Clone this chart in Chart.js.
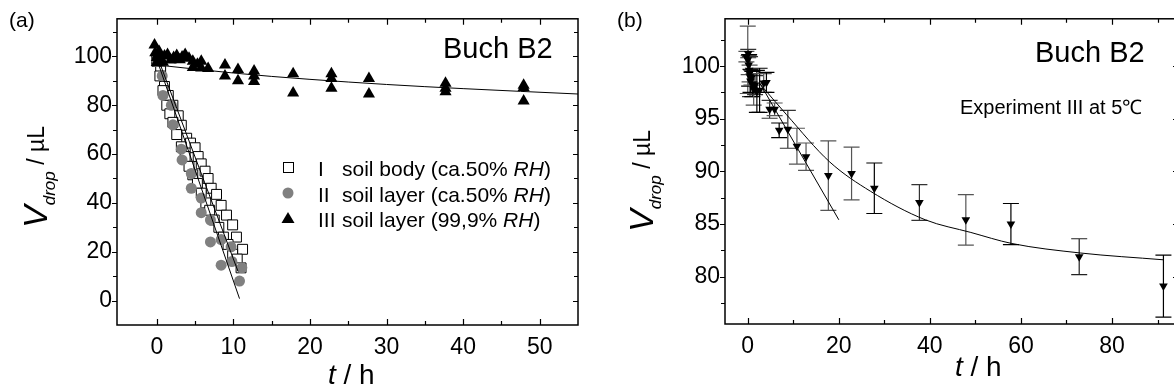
<!DOCTYPE html>
<html>
<head>
<meta charset="utf-8">
<script src="https://cdn.jsdelivr.net/npm/chart.js@4.4.0/dist/chart.umd.min.js"></script>
<style>
  html, body { margin: 0; padding: 0; background: #fff; overflow: hidden; width: 1174px; height: 392px; }
  canvas { position: absolute; top: 0; }
  #chartA { left: 0; }
  #chartB { left: 590px; }
</style>
</head>
<body>
<canvas id="chartA" width="590" height="392"></canvas>
<canvas id="chartB" width="600" height="392"></canvas>
<script>
// ---- panel (a) data ----
// I soil body, open squares (two drops)
const bodyT = [0, 0.5, 1.0, 1.5, 2.1, 2.8, 3.2, 3.9, 4.4, 5.0, 5.4, 5.8, 6.3, 6.7, 7.1, 7.8, 8.4, 9.1, 9.9, 10.4, 11.2,
               0, 0.4, 0.8, 1.3, 1.7, 2.1, 2.6, 3.2, 3.7, 4.2, 4.7, 5.3, 5.8, 6.4, 6.9, 7.5, 8.1, 8.7, 9.3, 9.9, 10.5, 11.0];
const bodyV = [99, 94, 87.7, 84, 80, 75.7, 71.8, 66.5, 64.5, 62.6, 59, 56, 53, 50, 46, 43.5, 39, 35, 31, 26, 21,
               98, 92, 86, 80, 76.5, 73, 68, 63, 59, 55, 51.5, 48, 44, 40, 37, 33, 30, 26, 23, 19, 17, 13.4];
// II soil layer, grey circles
const layerT = [0, 0, 0.7, 0.8, 1.9, 2.1, 3.2, 3.3, 4.5, 4.5, 5.8, 5.8, 7.0, 7.0, 8.4, 8.4, 9.7, 9.8, 11.1, 10.8];
const layerV = [99, 98, 92, 84, 80, 72, 62, 57.6, 52, 46, 42, 36, 33, 24, 25, 14.5, 22, 16, 13.4, 8];
// III soil layer 99,9% RH, filled triangles
const wetT = [-0.3, -0.2, 0, 0, 0.1, 0.2, 0.3, 0.5, 0.8, 1.0, 1.4, 1.8, 2.2, 2.6, 3.0, 3.3, 3.7, 4.2, 4.7, 4.7, 5.3, 5.8, 5.8, 6.7,
              8.9, 8.9, 10.6, 10.6, 12.7, 12.7, 12.7, 17.8, 17.8, 22.8, 22.8, 22.8, 27.7, 27.7, 37.7, 37.7, 37.7, 47.9, 47.9, 47.9];
const wetV = [104.7, 101.5, 99.5, 97.5, 100.5, 98.5, 102, 99, 97.6, 100.2, 100.8, 98.5, 99.5, 100.4, 98.6, 99.8, 100.8, 99.2, 98, 95.5, 96.8, 98, 95.2, 95,
              96.5, 92, 94.6, 90, 94, 92, 89.7, 92.9, 85, 92.9, 91, 87, 91, 84.6, 89, 87, 85.5, 88.2, 87.3, 81.7];
// fitted lines
const fitBodyT = [0.3, 10.6];
const fitBodyV = [98, 12];
const fitLayerT = [0.2, 10.8];
const fitLayerV = [97, 0.8];
const fitWetT = [0, 5, 10, 15, 20, 30, 40, 55];
const fitWetV = [96.5, 94.8, 93.2, 91.8, 90.6, 88.5, 86.8, 84.6];

const xTicksA = [0, 5, 10, 15, 20, 25, 30, 35, 40, 45, 50];
const xLabelsA = [0, 10, 20, 30, 40, 50];
const yTicksA = [0, 10, 20, 30, 40, 50, 60, 70, 80, 90, 100, 110];
const yLabelsA = [0, 20, 40, 60, 80, 100];

// ---- panel (b) data ----
const expT = [-0.3, 0.0, 0.1, 0.2, 0.3, 0.4, 0.5, 0.6, 0.8, 1.0, 1.3, 1.6, 2.0,
              2.6, 3.5, 4.1, 4.8, 5.9, 6.9, 8.8, 10.8, 12.8, 17.7, 22.8, 27.8, 37.7, 47.9, 57.8, 72.8, 91.3];
const expV = [100.9, 100.6, 101.2, 100.1, 99.6, 99.3, 99.0, 98.6, 98.9, 98.3, 97.8, 98.2, 97.6,
              97.7, 98.4, 98.45, 95.9, 95.9, 93.9, 94.0, 92.4, 91.4, 89.6, 89.8, 88.4, 87.05, 85.4, 85.0, 81.9, 79.1];
const expErr = [0.5, 3.2, 0.4, 0.9, 1.5, 0.8, 1.9, 1.1, 0.7, 1.2, 1.5, 0.9, 2.0,
                2.1, 0.9, 0.95, 0.85, 0.6, 0.7, 1.8, 1.7, 1.3, 3.3, 2.5, 2.4, 1.7, 2.4, 1.95, 1.7, 2.95];
const expErrColor = ['#555', '#555', '#333', '#555', '#000', '#555', '#333', '#000', '#555', '#000', '#555', '#333', '#000',
                     '#000', '#555', '#000', '#333', '#555', '#000', '#333', '#555', '#555', '#555', '#555', '#000', '#333', '#555', '#000', '#222', '#000'];
const fitLinT = [2.5, 20];
const fitLinV = [98.5, 85.4];
const fitExpT = [2.5, 8.5, 18, 27, 39, 49, 58, 73, 91.3];
const fitExpV = [98.4, 95.4, 90.9, 88.1, 85.4, 84.2, 83.15, 82.25, 81.6];

const xTicksB = [0, 10, 20, 30, 40, 50, 60, 70, 80, 90];
const xLabelsB = [0, 20, 40, 60, 80];
const yTicksB = [77.5, 80, 82.5, 85, 87.5, 90, 92.5, 95, 97.5, 100, 102.5];
const yLabelsB = [80, 85, 90, 95, 100];

const FONT = "'Liberation Sans', Arial, sans-serif";

function pairs(xs, ys) {
  return xs.map((v, i) => ({ x: v, y: ys[i] }));
}

function drawRich(ctx, parts, x, y) {
  let cx = x;
  parts.forEach(p => {
    ctx.font = (p[2] ? 'italic ' : '') + p[1] + 'px ' + FONT;
    ctx.fillText(p[0], cx, y + (p[3] || 0));
    cx += ctx.measureText(p[0]).width;
  });
  return cx;
}

function richWidth(ctx, parts) {
  let w = 0;
  parts.forEach(p => {
    ctx.font = (p[2] ? 'italic ' : '') + p[1] + 'px ' + FONT;
    w += ctx.measureText(p[0]).width;
  });
  return w;
}

function drawYTitle(ctx, bx, cy) {
  const parts = [['V', 34, true, 0], ['drop', 17, true, 8], [' / \u00b5L', 23, false, -3]];
  const w = richWidth(ctx, parts);
  ctx.save();
  ctx.translate(bx, cy);
  ctx.rotate(-Math.PI / 2);
  drawRich(ctx, parts, -w / 2, 0);
  ctx.restore();
}

// box round the plot, ticks inside except on the left side
const framePlugin = {
  id: 'frame',
  afterDatasetsDraw(chart, args, opts) {
    const { ctx, chartArea: a, scales: { x, y } } = chart;
    ctx.save();
    ctx.strokeStyle = '#000';
    ctx.lineWidth = 1.5;
    ctx.strokeRect(a.left, a.top, a.right - a.left, a.bottom - a.top);
    ctx.lineWidth = 1.2;
    ctx.beginPath();
    x.ticks.forEach(t => {
      const px = Math.round(x.getPixelForValue(t.value)) + 0.5;
      const len = opts.xMajor.includes(t.value) ? 6 : 4;
      ctx.moveTo(px, a.bottom); ctx.lineTo(px, a.bottom - len);
      ctx.moveTo(px, a.top); ctx.lineTo(px, a.top + len);
    });
    y.ticks.forEach(t => {
      const py = Math.round(y.getPixelForValue(t.value)) + 0.5;
      const len = opts.yMajor.includes(t.value) ? 5 : 4;
      ctx.moveTo(a.left, py); ctx.lineTo(a.left - len, py);
      ctx.moveTo(a.right, py); ctx.lineTo(a.right - len, py);
    });
    ctx.stroke();
    ctx.restore();
  }
};

const errorBarPlugin = {
  id: 'errorBars',
  beforeDatasetsDraw(chart) {
    const { ctx, scales: { x, y } } = chart;
    ctx.save();
    ctx.lineWidth = 1.2;
    chart.data.datasets.forEach(ds => {
      if (!ds.errors) return;
      ds.data.forEach((p, i) => {
        const px = x.getPixelForValue(p.x);
        const top = y.getPixelForValue(p.y + ds.errors[i]);
        const bot = y.getPixelForValue(p.y - ds.errors[i]);
        ctx.strokeStyle = ds.errorColors[i];
        ctx.beginPath();
        ctx.moveTo(px, top); ctx.lineTo(px, bot);
        ctx.moveTo(px - 8, top); ctx.lineTo(px + 8, top);
        ctx.moveTo(px - 8, bot); ctx.lineTo(px + 8, bot);
        ctx.stroke();
      });
    });
    ctx.restore();
  }
};

const textA = {
  id: 'textA',
  afterDraw(chart) {
    const ctx = chart.ctx;
    ctx.save();
    ctx.fillStyle = '#000';
    ctx.textBaseline = 'alphabetic';
    drawRich(ctx, [['(a)', 21]], 9, 27);
    drawRich(ctx, [['Buch B2', 29]], 443, 58);
    // legend
    const rows = [['I', 'soil body (ca.50% ', 176], ['II', 'soil layer (ca.50% ', 202], ['III', 'soil layer (99,9% ', 227]];
    rows.forEach(r => {
      drawRich(ctx, [[r[0], 21]], 318, r[2]);
      drawRich(ctx, [[r[1], 21], ['RH', 21, true], [')', 21]], 342, r[2]);
    });
    ctx.strokeStyle = '#000';
    ctx.lineWidth = 1;
    ctx.fillStyle = '#fff';
    ctx.fillRect(283.5, 162.5, 10, 10);
    ctx.strokeRect(283.5, 162.5, 10, 10);
    ctx.fillStyle = '#808080';
    ctx.beginPath(); ctx.arc(288, 193, 5.5, 0, Math.PI * 2); ctx.fill();
    ctx.fillStyle = '#000';
    ctx.beginPath(); ctx.moveTo(288, 212); ctx.lineTo(294.5, 223); ctx.lineTo(281.5, 223); ctx.closePath(); ctx.fill();
    drawRich(ctx, [['t', 28, true], [' / h', 28]], 328, 384);
    drawYTitle(ctx, 47, 177);
    ctx.restore();
  }
};

const textB = {
  id: 'textB',
  afterDraw(chart) {
    const ctx = chart.ctx;
    ctx.save();
    ctx.fillStyle = '#000';
    ctx.textBaseline = 'alphabetic';
    drawRich(ctx, [['(b)', 21]], 27, 27);
    drawRich(ctx, [['Buch B2', 29]], 445, 62);
    drawRich(ctx, [['Experiment III at 5\u2103', 20]], 370, 114);
    drawRich(ctx, [['t', 28, true], [' / h', 28]], 365, 376);
    drawYTitle(ctx, 63, 181);
    ctx.restore();
  }
};

function axes(xmin, xmax, xTicks, xLabels, yMin, yMax, yTicks, yLabels, yWidth, xHeight) {
  const tickFont = { family: FONT, size: 23 };
  return {
    x: {
      type: 'linear', min: xmin, max: xmax,
      afterBuildTicks: s => { s.ticks = xTicks.map(v => ({ value: v })); },
      afterFit: s => { s.height = xHeight; },
      ticks: { callback: v => xLabels.includes(v) ? String(v) : '', font: tickFont, color: '#000', padding: 9, maxRotation: 0, autoSkip: false },
      grid: { display: false, drawTicks: false },
      border: { display: false }
    },
    y: {
      type: 'linear', min: yMin, max: yMax,
      afterBuildTicks: s => { s.ticks = yTicks.map(v => ({ value: v })); },
      afterFit: s => { s.width = yWidth; },
      ticks: { callback: v => yLabels.includes(v) ? String(v) : '', font: tickFont, color: '#000', padding: 5, autoSkip: false },
      grid: { display: false, drawTicks: false },
      border: { display: false }
    }
  };
}

new Chart(document.getElementById('chartA'), {
  type: 'scatter',
  data: {
    datasets: [
      { data: pairs(fitBodyT, fitBodyV), showLine: true, pointRadius: 0, borderColor: '#000', borderWidth: 1, order: 0 },
      { data: pairs(fitLayerT, fitLayerV), showLine: true, pointRadius: 0, borderColor: '#000', borderWidth: 1, order: 0 },
      { data: pairs(fitWetT, fitWetV), showLine: true, pointRadius: 0, borderColor: '#000', borderWidth: 1, cubicInterpolationMode: 'monotone', order: 0 },
      { data: pairs(wetT, wetV), pointStyle: 'triangle', pointRadius: 7, backgroundColor: '#000', borderColor: '#000', borderWidth: 0, order: 1 },
      { data: pairs(layerT, layerV), pointStyle: 'circle', pointRadius: 5.5, backgroundColor: '#808080', borderColor: '#808080', borderWidth: 0, order: 2 },
      { data: pairs(bodyT, bodyV), pointStyle: 'rect', pointRadius: 7, backgroundColor: '#fff', borderColor: '#000', borderWidth: 1, order: 3 }
    ]
  },
  options: {
    responsive: false, animation: false, events: [],
    layout: { padding: { top: 8, right: 12, left: 0, bottom: 0 } },
    plugins: { legend: { display: false }, tooltip: { enabled: false }, frame: { xMajor: xLabelsA, yMajor: yLabelsA } },
    scales: axes(-5.2, 55, xTicksA, xLabelsA, -10, 115.4, yTicksA, yLabelsA, 117, 67)
  },
  plugins: [framePlugin, textA]
});

new Chart(document.getElementById('chartB'), {
  type: 'scatter',
  data: {
    datasets: [
      { data: pairs(fitLinT, fitLinV), showLine: true, pointRadius: 0, borderColor: '#000', borderWidth: 1, order: 0 },
      { data: pairs(fitExpT, fitExpV), showLine: true, pointRadius: 0, borderColor: '#000', borderWidth: 1, cubicInterpolationMode: 'monotone', order: 0 },
      { data: pairs(expT, expV), errors: expErr, errorColors: expErrColor, pointStyle: 'triangle', rotation: 180, pointRadius: 5, backgroundColor: '#000', borderColor: '#000', borderWidth: 0, order: 1 }
    ]
  },
  options: {
    responsive: false, animation: false, events: [],
    layout: { padding: { top: 11, right: 12, left: 0, bottom: 0 } },
    plugins: { legend: { display: false }, tooltip: { enabled: false }, frame: { xMajor: xLabelsB, yMajor: yLabelsB } },
    scales: axes(-5, 94.5, xTicksB, xLabelsB, 75.5, 104.5, yTicksB, yLabelsB, 135, 68)
  },
  plugins: [framePlugin, errorBarPlugin, textB]
});
</script>
</body>
</html>
